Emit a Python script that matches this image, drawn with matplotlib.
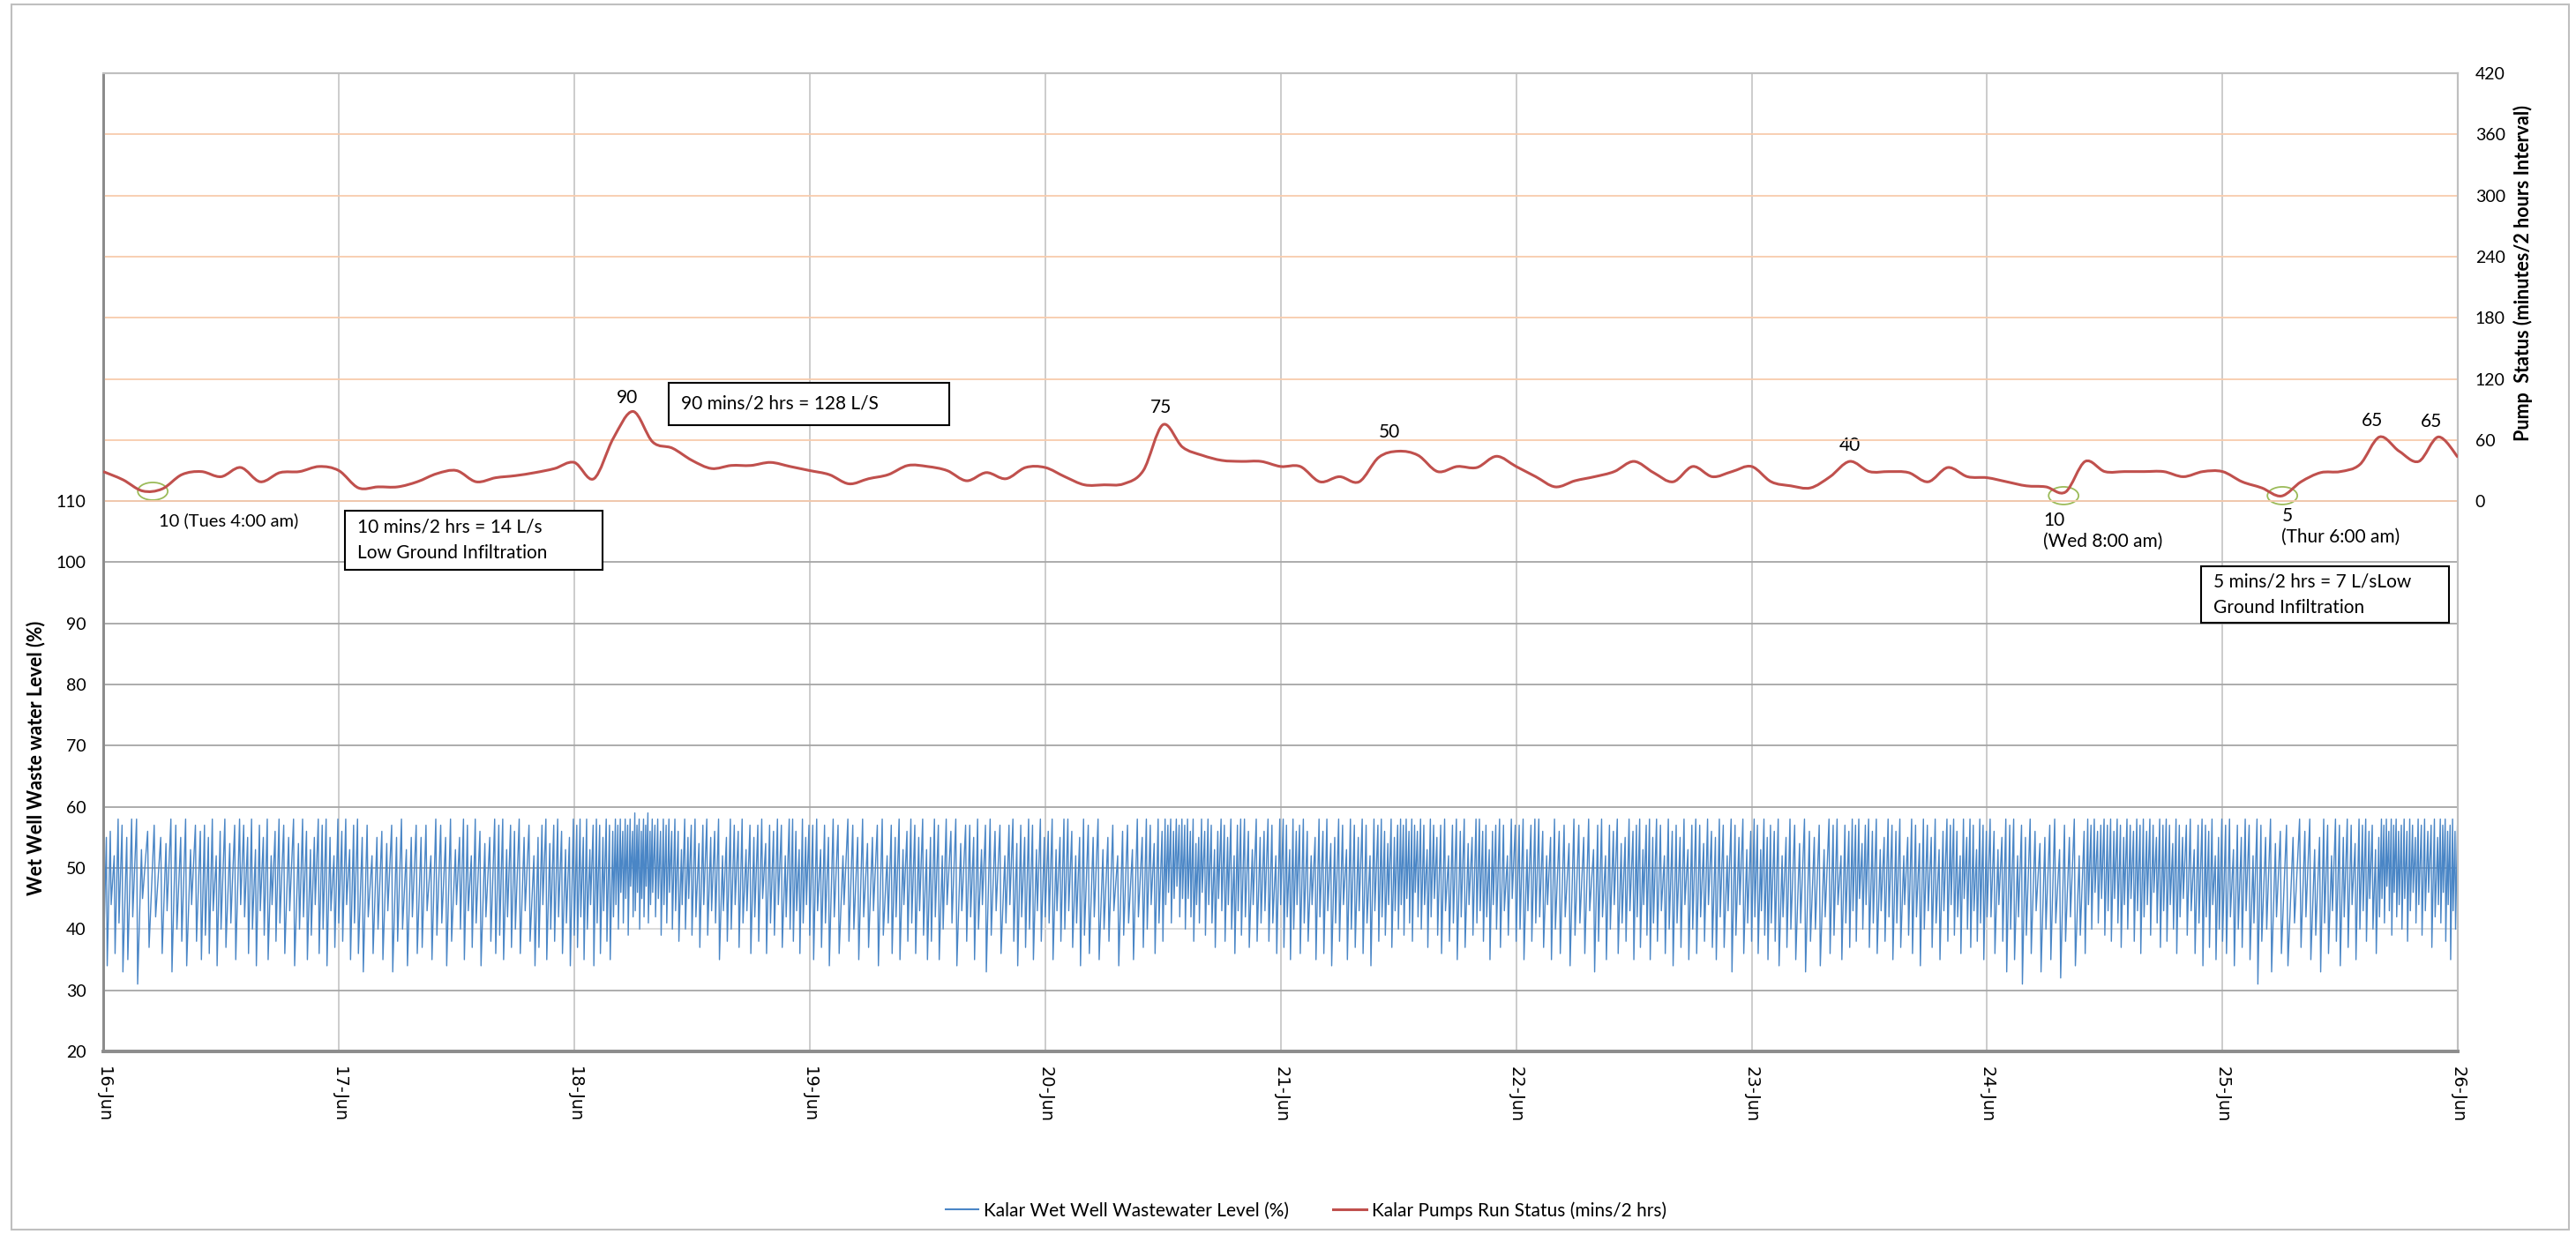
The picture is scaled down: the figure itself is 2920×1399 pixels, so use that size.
import numpy as np
import matplotlib
matplotlib.use('Agg')
import matplotlib.pyplot as plt
import matplotlib.dates as mdates
from matplotlib.path import Path
from matplotlib.patches import PathPatch, Rectangle, Ellipse
from matplotlib.lines import Line2D

plt.rcParams['font.family'] = ['Lato', 'DejaVu Sans']

start = np.datetime64('2020-06-16T00:00')
day_ticks = start + np.arange(11) * np.timedelta64(1, 'D')

# pump run time, one value every 2 hours (16-Jun 00:00 .. 26-Jun 00:00)
pump_times = start + np.arange(121) * np.timedelta64(2, 'h')
pump_mins = [
    29, 21, 10, 12, 26, 29, 24, 33, 19, 28, 29, 34,   # 16-Jun
    30, 13, 14, 14, 19, 27, 30, 19, 23, 25, 28, 32,   # 17-Jun
    38, 22, 62, 88, 58, 52, 40, 32, 35, 35, 38, 34,   # 18-Jun
    30, 26, 17, 22, 26, 35, 34, 30, 20, 28, 22, 33,   # 19-Jun
    33, 24, 16, 16, 17, 30, 75, 53, 45, 40, 39, 39,   # 20-Jun
    34, 34, 19, 24, 19, 43, 49, 45, 29, 34, 33, 44,   # 21-Jun
    34, 24, 14, 20, 24, 29, 39, 28, 19, 34, 24, 29,   # 22-Jun
    34, 19, 15, 13, 24, 39, 29, 29, 28, 19, 33, 24,   # 23-Jun
    23, 19, 15, 14, 9, 39, 29, 29, 29, 29, 24, 29,    # 24-Jun
    29, 19, 13, 5, 19, 28, 29, 36, 63, 49, 39, 63,    # 25-Jun
    43,
]

# wet well level: one line per 2-hour block, each token = cycle peak-trough (%)
level_blocks = """
55-34 56-44 52-36 58-41 57-33
55-35 58-42 58-31 53-45
56-37 57-42 55-36
54-43 58-33 57-40 55-38
58-34 53-44 57-38 56-35
57-39 55-36 58-43 52-34 56-40
58-37 54-41 57-35 58-44
57-42 55-36 58-40 53-34 57-43
55-39 58-35 52-44 56-38 58-41
57-36 55-43 58-34 54-40
58-42 56-35 53-39 55-44 58-36
57-40 58-34 55-43 52-37 58-41
56-38 58-44 53-35 57-41 58-36
55-33 57-42 52-36 55-40
56-35 54-43 57-33 55-38
58-40 53-34 55-42 57-36
55-37 57-43 52-35 58-39
57-41 55-34 58-38 53-44
55-40 58-35 57-43 52-37 58-41
56-34 54-42 55-38 58-36
57-39 58-35 53-42 57-37 56-40
58-36 55-43 57-38 52-34
55-37 57-44 58-35 54-40 57-38
58-42 56-36 53-41 55-34 58-39
57-37 58-42 55-35 58-40 53-44 57-34
58-41 57-36 55-43 58-38 57-35 56-42
58-44 57-40 58-46 56-41 58-45 57-39 58-47 56-42
59-43 57-46 58-40 56-45 58-42 57-47 59-41 56-44 58-46
57-42 58-45 56-39 58-44 57-41 58-46 56-40
58-43 56-38 53-44 58-40 55-45 57-39
58-42 54-37 57-44 58-39 55-43
56-41 58-35 52-43 55-38 58-40
57-44 56-37 58-41 53-43 57-36
55-42 57-38 58-45 54-36 57-41
56-39 58-44 57-37 52-42 58-40
58-38 56-43 53-36 58-41 55-44 57-39
57-35 58-43 53-37 57-41 55-34
58-42 57-36 52-44 58-38
57-40 55-35 58-42 54-37
55-43 57-34 58-39 52-41
57-36 55-42 58-35 53-44 56-38
58-41 57-36 55-43 58-39 53-35
55-38 58-42 57-35 52-40 58-44
56-41 58-34 54-43 57-38
57-42 55-35 58-40 53-44 57-33
58-39 56-43 57-36 52-41
57-44 58-38 54-34 57-42 55-37
58-40 57-35 53-43 58-38 55-42
56-41 58-35 53-43 55-38 58-40
58-43 56-37 52-41 55-34 58-39
57-36 55-42 58-35 53-40
55-38 57-43 52-34 56-39
57-41 53-35 58-42 55-37
58-40 57-44 54-36 58-41 56-38
58-44 57-46 58-41 56-45 58-47 57-42 58-45
57-40 58-45 56-42 58-38 54-44 55-41 58-46
56-39 58-44 57-41 53-37 56-45 58-43
57-38 55-44 58-40 52-36 57-43 58-39
58-42 56-37 53-44 58-38 55-41
56-43 58-38 57-41 52-36 58-44
58-37 57-42 53-35 58-40 56-44 57-36
58-41 56-38 52-44 55-35 58-42
56-36 58-43 54-34 55-41 58-38
57-44 53-35 58-40 57-37 55-43
58-36 57-41 52-34 58-43 57-38
58-42 56-39 54-44 58-37 55-43 57-40
58-44 57-39 58-45 56-41 58-38 57-46 56-42
58-40 57-44 53-37 58-42 57-45 55-39
57-36 58-43 52-38 57-41 58-35
56-42 58-37 54-44 55-39 58-41
58-43 56-38 57-42 53-35 56-44 57-40
58-37 57-43 52-39 58-45 57-38
57-40 58-35 53-43 57-38 58-41
58-42 56-37 52-44 55-35 58-40
56-36 57-42 54-34 58-39
57-41 55-36 58-43 53-33
57-38 58-42 52-35 57-40 56-44
58-36 54-41 55-38 58-43 56-35
57-42 58-37 53-44 57-39 58-35 55-41
58-38 57-43 52-36 58-40 56-34
57-41 55-37 58-44 53-35 57-40
58-36 57-42 54-38 58-44 56-37
55-35 58-42 57-37 52-43 58-33
57-39 55-44 58-36 53-41 56-38
58-42 57-36 53-43 58-39 55-35 57-41
56-38 58-34 52-42 55-37 58-40
57-35 54-41 58-33 56-38
55-40 57-34 53-42 58-36
57-39 58-44 52-35 57-41 56-37
58-43 57-38 58-45 54-40 57-44 58-37
56-41 58-36 53-43 55-38 58-42
57-35 56-41 58-37 52-44 55-39
58-36 57-42 54-34 58-40 57-43
55-37 58-41 53-35 56-43 58-38
57-44 58-39 56-42 52-36 58-45 55-40
58-37 57-43 53-38 58-41 57-35 56-42
58-42 56-36 53-44 55-38 58-33
57-40 58-35 52-42 57-31 55-39
58-36 56-43 54-33 55-40
57-35 58-41 53-32 57-38
55-42 58-34 52-39 56-36
58-44 57-40 58-46 56-41 57-45 58-39
57-43 58-38 56-45 58-41 57-37 55-44
58-40 57-45 56-38 58-43 57-36 58-42
56-44 58-39 57-46 55-41 58-37 57-43
58-38 57-44 54-40 58-36 57-42 55-45
57-39 58-43 53-36 57-41 58-34
57-42 56-37 58-44 52-35 55-40 58-38
57-36 58-42 53-34 57-40 55-37
58-43 57-35 52-41 58-31 57-38
55-40 58-33 54-42 56-36
57-34 55-41 58-37
56-42 58-35 53-39 55-33
58-41 57-36 52-43 58-38 57-34
55-42 58-37 57-44 54-35 58-40
57-43 58-38 56-45 57-40 53-36 55-42
58-45 57-41 58-47 56-43 58-39 57-46 58-42 56-44
57-40 58-45 56-38 58-43 57-46 55-41 58-44
57-39 58-43 56-46 57-37 58-42 55-44
58-41 57-46 58-38 56-44 57-35 58-43 56-40 57-45
"""

BLUE = '#4a86c6'
RED = '#c0504d'

t0 = mdates.date2num(start)
block = 2.0 / 24
lx, ly = [], []
for i, line in enumerate(level_blocks.strip().splitlines()):
    cycles = [tuple(int(v) for v in tok.split('-')) for tok in line.split()]
    dur = block / len(cycles)
    for j, (pk, tr) in enumerate(cycles):
        a = t0 + i * block + j * dur
        if not lx:
            lx.append(a)
            ly.append(tr)
        lx += [a + 0.78 * dur, a + dur]
        ly += [pk, tr]


def smooth_path(x, y):
    # smoothed line like the spreadsheet's "smoothed line" option
    x = np.asarray(x, float)
    y = np.asarray(y, float)
    px = np.r_[x[0], x, x[-1]]
    py = np.r_[y[0], y, y[-1]]
    verts = [(x[0], y[0])]
    codes = [Path.MOVETO]
    for k in range(len(x) - 1):
        c1 = (px[k + 1] + (px[k + 2] - px[k]) / 6, py[k + 1] + (py[k + 2] - py[k]) / 6)
        c2 = (px[k + 2] - (px[k + 3] - px[k + 1]) / 6, py[k + 2] - (py[k + 3] - py[k + 1]) / 6)
        verts += [c1, c2, (x[k + 1], y[k + 1])]
        codes += [Path.CURVE4] * 3
    return Path(verts, codes)


fig = plt.figure(figsize=(29.2, 13.99), dpi=100)
ax = fig.add_axes([0.0401, 0.148, 0.9141, 0.7927])
ax2 = ax.twinx()

ax.plot(lx, ly, color=BLUE, lw=1.0, zorder=3)
ax2.add_patch(PathPatch(smooth_path(mdates.date2num(pump_times), pump_mins),
                        fill=False, edgecolor=RED, lw=2.2, zorder=4))

ax.set_xlim(t0, mdates.date2num(day_ticks[-1]))
ax.set_ylim(20, 180)
ax.set_yticks(range(20, 111, 10))
ax2.set_ylim(-540, 420)
ax2.set_yticks(range(0, 421, 60))

ax.set_xticks(mdates.date2num(day_ticks))
ax.xaxis.set_major_formatter(mdates.DateFormatter('%d-%b'))

ax.set_axisbelow(True)
ax.grid(axis='y', color='#a6a6a6', lw=1.3)
ax.grid(axis='x', color='#c8c8c8', lw=1.3)
ax.get_ygridlines()[2].set_color('#d9d9d9')
ax2.grid(axis='y', color='#f8cbad', lw=1.3)

ax.tick_params(axis='y', length=0, pad=14, labelsize=14)
ax2.tick_params(axis='y', length=0, pad=14, labelsize=14)
ax.tick_params(axis='x', length=0, pad=12, labelsize=14, labelrotation=270,
               labelfontfamily='DejaVu Sans')

for a in (ax, ax2):
    a.spines['left'].set_color('#8c8c8c')
    a.spines['left'].set_linewidth(2.0)
    a.spines['bottom'].set_color('#8c8c8c')
    a.spines['bottom'].set_linewidth(2.6)
    a.spines['top'].set_color('#bfbfbf')
    a.spines['top'].set_linewidth(1.5)
    a.spines['right'].set_color('#bfbfbf')
    a.spines['right'].set_linewidth(1.5)

fig.text(0.014, 0.386, 'Wet Well Waste water Level (%)', rotation=90,
         ha='center', va='center', fontsize=15.5, fontweight='bold')
fig.text(0.9795, 0.779, 'Pump  Status (minutes/2 hours Interval)', rotation=90,
         ha='center', va='center', fontsize=15.5, fontweight='bold')

# annotations
fs = 15
ax.text(0.0236, 0.5428, '10 (Tues 4:00 am)', transform=ax.transAxes, fontsize=14.5, va='center')
ax.text(0.2226, 0.6682, '90', transform=ax.transAxes, fontsize=fs, ha='center', va='center')
ax.text(0.4492, 0.6583, '75', transform=ax.transAxes, fontsize=fs, ha='center', va='center')
ax.text(0.5463, 0.6330, '50', transform=ax.transAxes, fontsize=fs, ha='center', va='center')
ax.text(0.7418, 0.6195, '40', transform=ax.transAxes, fontsize=fs, ha='center', va='center')
ax.text(0.9637, 0.6447, '65', transform=ax.transAxes, fontsize=fs, ha='center', va='center')
ax.text(0.9888, 0.6438, '65', transform=ax.transAxes, fontsize=fs, ha='center', va='center')
ax.text(0.8239, 0.5428, '10', transform=ax.transAxes, fontsize=fs, va='center')
ax.text(0.8239, 0.5212, '(Wed 8:00 am)', transform=ax.transAxes, fontsize=fs, va='center')
ax.text(0.9251, 0.5473, '5', transform=ax.transAxes, fontsize=fs, va='center')
ax.text(0.9251, 0.5257, '(Thur 6:00 am)', transform=ax.transAxes, fontsize=fs, va='center')

boxes = [
    ((0.1027, 0.4923), 0.1094, 0.0605, ['10 mins/2 hrs = 14 L/s', 'Low Ground Infiltration']),
    ((0.2402, 0.6402), 0.1191, 0.0433, ['90 mins/2 hrs = 128 L/S']),
    ((0.8910, 0.4382), 0.1053, 0.0577, ['5 mins/2 hrs = 7 L/sLow', 'Ground Infiltration']),
]
for (bx, by), bw, bh, lines in boxes:
    ax.add_patch(Rectangle((bx, by), bw, bh, transform=ax.transAxes, facecolor='white',
                           edgecolor='black', lw=1.5, zorder=6))
    n = len(lines)
    for k, s in enumerate(lines):
        yy = by + bh / 2 + ((n - 1) / 2 - k) * 0.027
        ax.text(bx + 0.005, yy, s, transform=ax.transAxes, fontsize=fs, va='center', zorder=7)

for ex, ey in [(0.0210, 0.5726), (0.8325, 0.5681), (0.9254, 0.5681)]:
    ax.add_patch(Ellipse((ex, ey), 0.0127, 0.018, transform=ax.transAxes, fill=False,
                         edgecolor='#9bbb59', lw=1.3, zorder=5))

handles = [Line2D([], [], color=BLUE, lw=1.5), Line2D([], [], color=RED, lw=2.2)]
fig.legend(handles, ['Kalar Wet Well Wastewater Level (%)', 'Kalar Pumps Run Status (mins/2 hrs)'],
           loc='center', bbox_to_anchor=(0.507, 0.019), ncol=2, frameon=False, fontsize=15,
           handlelength=1.8, handletextpad=0.3, columnspacing=2.4)

fig.add_artist(Rectangle((13 / 2920, 5 / 1399), 2899 / 2920, 1389 / 1399, transform=fig.transFigure,
                         fill=False, edgecolor='#bfbfbf', lw=1.5))

fig.savefig('out.png', dpi=100)
